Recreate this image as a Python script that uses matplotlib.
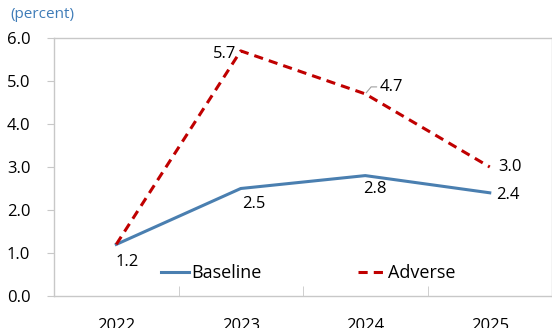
import matplotlib
matplotlib.use("Agg")
import matplotlib.pyplot as plt
import numpy as np

years = ["2022", "2023", "2024", "2025"]
baseline = [1.2, 2.5, 2.8, 2.4]
adverse = [1.2, 5.7, 4.7, 3.0]
yticks = [0.0, 1.0, 2.0, 3.0, 4.0, 5.0, 6.0]

plt.rcParams['font.family'] = ['Open Sans', 'DejaVu Sans']

fig = plt.figure(figsize=(5.52, 3.28), dpi=100)
ax = fig.add_axes([54/552, 1-296/328, 1-54/552, (296-38)/328])

x = np.arange(len(years))
blue = "#4a7fb0"
red = "#c00000"
ax.plot(x, baseline, color=blue, lw=2.2, label="Baseline")
ax.plot(x, adverse, color=red, lw=2.2, ls=(0, (3, 2)), label="Adverse")

ax.set_xlim(-0.5, 3.5)
ax.set_ylim(0, 6)
ax.set_yticks(yticks)
ax.set_yticklabels([f"{v:.1f}" for v in yticks])
ax.set_xticks(x)
ax.set_xticklabels(years)
ax.set_xticks(np.arange(-0.5, 4.0, 1.0), minor=True)

for s in ax.spines.values():
    s.set_color("#c8c8c8")
    s.set_linewidth(1.0)

ax.tick_params(axis='y', direction='out', length=5, color="#c8c8c8", labelsize=12, pad=12)
ax.tick_params(axis='x', which='major', length=0, labelsize=12, pad=16)
ax.tick_params(axis='x', which='minor', direction='in', length=7, color="#c8c8c8")

fs = 12
# Baseline labels
ax.annotate(f"{baseline[0]:.1f}", (x[0], baseline[0]), xytext=(11, -18), textcoords='offset pixels', ha='center', va='center', fontsize=fs)
ax.annotate(f"{baseline[1]:.1f}", (x[1], baseline[1]), xytext=(13, -15), textcoords='offset pixels', ha='center', va='center', fontsize=fs)
ax.annotate(f"{baseline[2]:.1f}", (x[2], baseline[2]), xytext=(10, -13), textcoords='offset pixels', ha='center', va='center', fontsize=fs)
ax.annotate(f"{baseline[3]:.1f}", (x[3], baseline[3]), xytext=(18, -2), textcoords='offset pixels', ha='center', va='center', fontsize=fs)
# Adverse labels
ax.annotate(f"{adverse[1]:.1f}", (x[1], adverse[1]), xytext=(-16, -3), textcoords='offset pixels', ha='center', va='center', fontsize=fs)
ax.annotate(f"{adverse[2]:.1f}", (x[2], adverse[2]), xytext=(26, 7), textcoords='offset pixels', ha='center', va='center', fontsize=fs,
            arrowprops=dict(arrowstyle='-', color='#a0a0a0', lw=0.8, shrinkA=12, shrinkB=1,
                            connectionstyle="angle,angleA=0,angleB=50,rad=0"))
ax.annotate(f"{adverse[3]:.1f}", (x[3], adverse[3]), xytext=(20, 0), textcoords='offset pixels', ha='center', va='center', fontsize=fs)

leg = ax.legend(loc='lower center', bbox_to_anchor=(0.511, 0.005), ncol=2, frameon=False, fontsize=13,
                handlelength=1.55, handletextpad=0.15, columnspacing=5.3, borderaxespad=0.3)

fig.text(10/552, 1-14/328, "(percent)", color="#3f7cb8", fontsize=11, ha='left', va='center')

fig.savefig("out.png", dpi=100)
